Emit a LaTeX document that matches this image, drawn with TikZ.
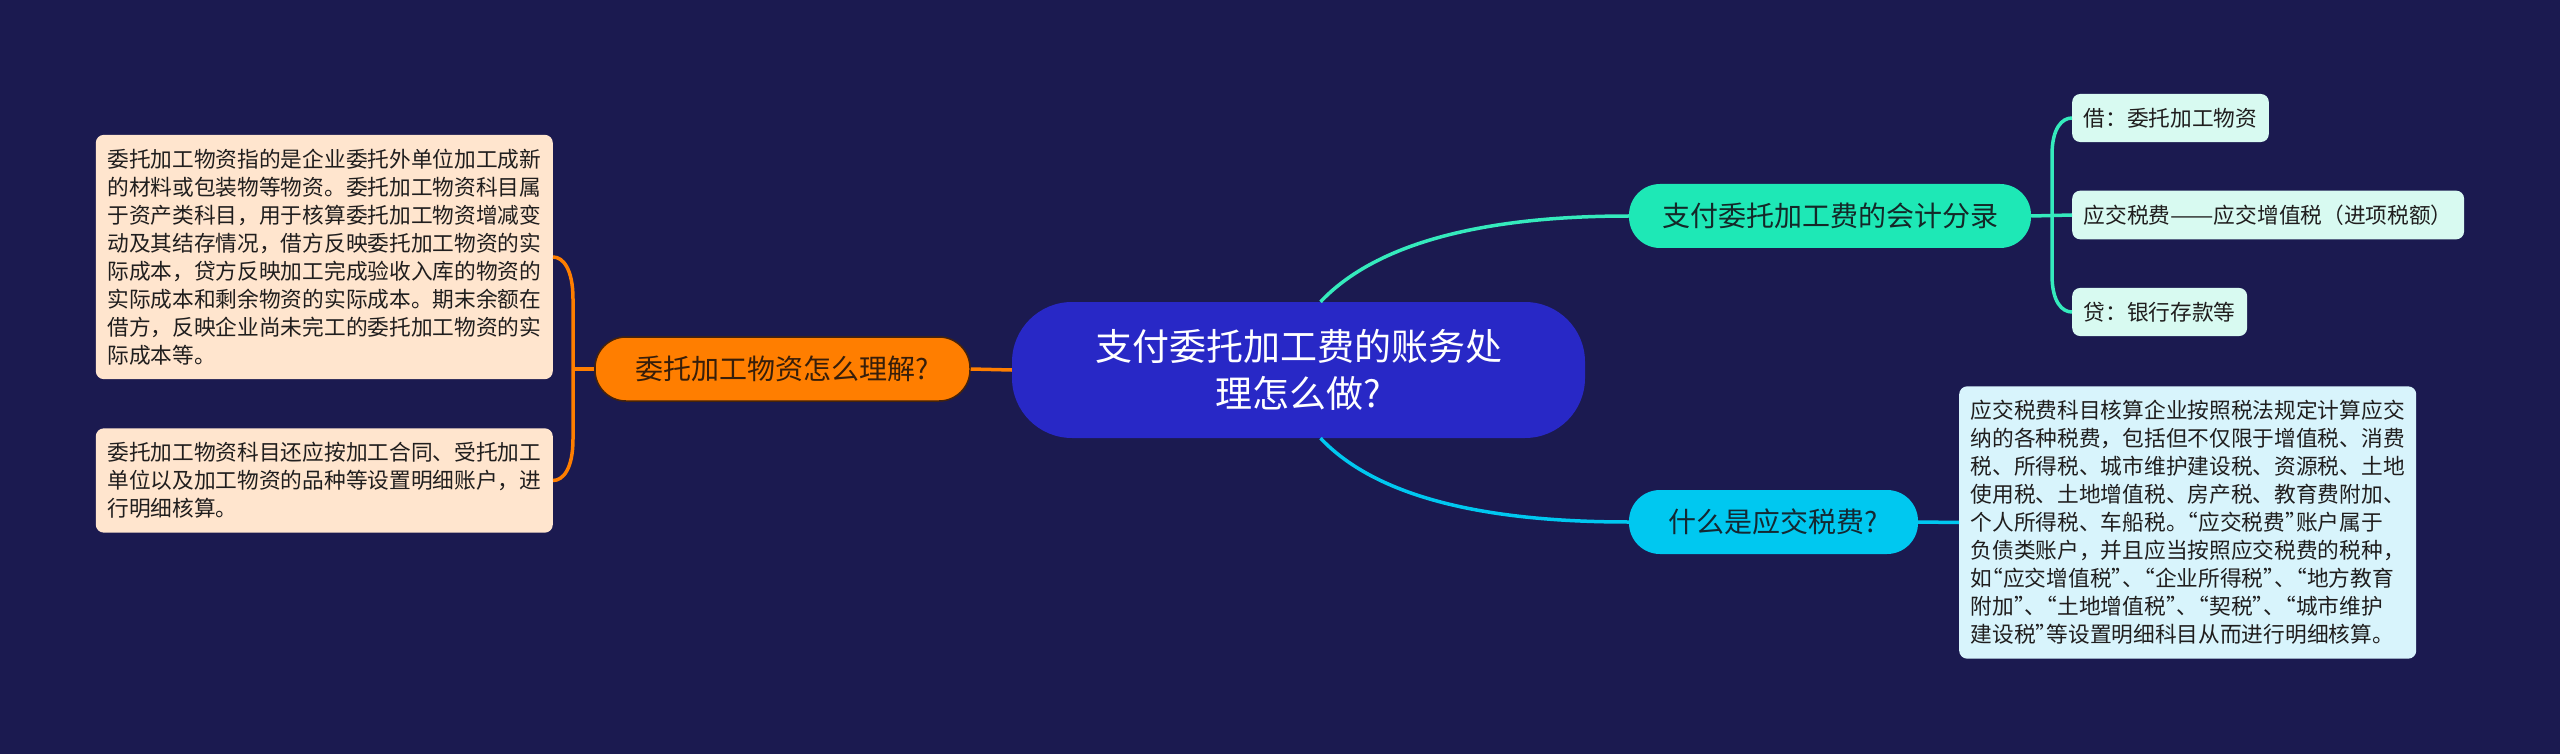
\documentclass[tikz,border=0pt]{standalone}
\usepackage{fontspec}
\setmainfont{Noto Sans CJK SC}
\usepackage{tikz}
\usetikzlibrary{positioning,calc}

\definecolor{bgnavy}{RGB}{27,26,80}
\definecolor{rootblue}{RGB}{40,40,198}
\definecolor{orangetopic}{RGB}{255,126,0}
\definecolor{greentopic}{RGB}{30,232,182}
\definecolor{cyantopic}{RGB}{0,200,240}
\definecolor{peachleaf}{RGB}{255,229,206}
\definecolor{mintleaf}{RGB}{216,250,241}
\definecolor{blueleaf}{RGB}{216,244,252}
\definecolor{leaftext}{RGB}{32,30,30}

% half-width quotes
\newcommand{\oq}{\makebox[0.5em][r]{“}}
\newcommand{\cq}{\makebox[0.5em][l]{”}}

\begin{document}
\begin{tikzpicture}[
    x=1pt, y=-1pt,
    root/.style={fill=rootblue, text=white, rounded corners=60pt, minimum width=573pt, minimum height=136pt, align=center, font=\fontsize{37}{47}\selectfont},
    topic/.style={rounded corners=31pt, minimum height=64pt, inner sep=0pt, font=\fontsize{28}{34}\selectfont},
    leaf/.style={rounded corners=8pt, inner xsep=11.5pt, inner ysep=14pt, align=left, text=leaftext, font=\fontsize{21.7}{28}\selectfont},
    wire/.style={line width=3.5pt},
]
% background
\fill[bgnavy] (0,0) rectangle (2560,754);
\useasboundingbox (0,0) rectangle (2560,754);

% central topic
\node[root] (root) at (1298.5,370) {支付委托加工费的账务处\\理怎么做?};

% left branch
\node[topic, fill=orangetopic, draw={rgb,255:red,70;green,35;blue,10}, line width=1.5pt, text={rgb,255:red,55;green,30;blue,10}, minimum width=375pt] (orange) at (782.5,369) {委托加工物资怎么理解?};
\node[leaf, fill=peachleaf, anchor=east] (box1) at (553,257) {委托加工物资指的是企业委托外单位加工成新\\的材料或包装物等物资。委托加工物资科目属\\于资产类科目，用于核算委托加工物资增减变\\动及其结存情况，借方反映委托加工物资的实\\际成本，贷方反映加工完成验收入库的物资的\\实际成本和剩余物资的实际成本。期末余额在\\借方，反映企业尚未完工的委托加工物资的实\\际成本等。};
\node[leaf, fill=peachleaf, anchor=east] (box2) at (553,480.5) {委托加工物资科目还应按加工合同、受托加工\\单位以及加工物资的品种等设置明细账户，进\\行明细核算。};

% upper right branch
\node[topic, fill=greentopic, text={rgb,255:red,20;green,40;blue,40}, minimum width=402pt] (green) at (1830,216) {支付委托加工费的会计分录};
\node[leaf, fill=mintleaf, anchor=west] (debit) at (2072,118) {借：委托加工物资};
\node[leaf, fill=mintleaf, anchor=west] (vat) at (2072,215) {应交税费\resizebox{2em}{\height}{——}应交增值税（进项税额）};
\node[leaf, fill=mintleaf, anchor=west] (credit) at (2072,312) {贷：银行存款等};

% lower right branch
\node[topic, fill=cyantopic, text={rgb,255:red,20;green,40;blue,50}, minimum width=289pt] (cyan) at (1773.5,522) {什么是应交税费?};
\node[leaf, fill=blueleaf, anchor=west] (taxbox) at (1959,522.5) {应交税费科目核算企业按照税法规定计算应交\\纳的各种税费，包括但不仅限于增值税、消费\\税、所得税、城市维护建设税、资源税、土地\\使用税、土地增值税、房产税、教育费附加、\\个人所得税、车船税。\oq 应交税费\cq 账户属于\\负债类账户，并且应当按照应交税费的税种，\\如\oq 应交增值税\cq 、\oq 企业所得税\cq 、\oq 地方教育\\附加\cq 、\oq 土地增值税\cq 、\oq 契税\cq 、\oq 城市维护\\建设税\cq 等设置明细科目从而进行明细核算。};

% connectors
\coordinate (ojoin) at (573,369);
\coordinate (gjoin) at (2052,215);
\draw[wire, orangetopic] (orange.east) -- (root.west);
\draw[wire, orangetopic] (orange.west) -- (ojoin);
\draw[wire, orangetopic] (ojoin) -- ++(0,-70) .. controls +(0,-30) and +(10,0) .. (box1.east);
\draw[wire, orangetopic] (ojoin) -- ++(0,70) .. controls +(0,30) and +(10,0) .. (box2.east);

\draw[wire, greentopic!90!white] ([xshift=22pt]root.north) .. controls +(53,-56) and +(-153,0) .. (green.west);
\draw[wire, greentopic!90!white] (green.east) -- (vat.west);
\draw[wire, greentopic!90!white] (gjoin) -- ++(0,-60) .. controls +(0,-27) and +(-10,0) .. (debit.west);
\draw[wire, greentopic!90!white] (gjoin) -- ++(0,60) .. controls +(0,27) and +(-10,0) .. (credit.west);

\draw[wire, cyantopic] ([xshift=22pt]root.south) .. controls +(53,56) and +(-153,0) .. (cyan.west);
\draw[wire, cyantopic] (cyan.east) -- (taxbox.west);
\end{tikzpicture}
\end{document}
